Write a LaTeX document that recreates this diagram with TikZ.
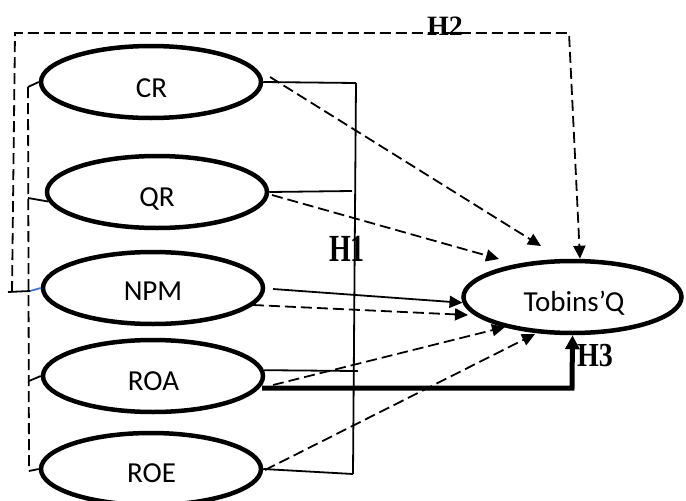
\documentclass[tikz,border=0pt]{standalone}
\usepackage{fontspec}
\setmainfont{Carlito}
\newfontfamily\timesfont{Liberation Serif}
\usetikzlibrary{shapes.geometric,arrows.meta}
\definecolor{linkblue}{RGB}{68,114,196}
\begin{document}
\begin{tikzpicture}[x=1pt,y=-1pt,
  oval/.style={ellipse,draw,line width=4.5pt,minimum width=220pt,minimum height=72pt,inner sep=0pt},
  txt/.style={anchor=base,inner sep=0pt,font=\fontsize{29}{31}\selectfont},
  thinln/.style={line width=1.8pt},
  dsh/.style={line width=1.8pt,dash pattern=on 11pt off 5pt},
  tip/.style={-{Triangle[length=13pt,width=12pt]}},
  bigtip/.style={-{Triangle[length=14pt,width=14pt]}},
  hlab/.style={font=\timesfont\bfseries\fontsize{28}{30}\selectfont,anchor=base,inner sep=0pt}]
\useasboundingbox (0,0) rectangle (686,501);
\clip (0,0) rectangle (686,501);

% ellipses
\node[oval] (cr)  at (151,82)  {};
\node[oval] (qr)  at (157,192) {};
\node[oval] (npm) at (153,288) {};
\node[oval] (roa) at (153,376) {};
\node[oval] (roe) at (151,469) {};
\node[oval,minimum width=218pt] (tq) at (572.5,297) {};

\node[txt] (crt)  at (151.5,97)  {CR};
\node[txt] (qrt)  at (157,206)   {QR};
\node[txt] (npmt) at (153,300)   {NPM};
\node[txt] (roat) at (153.5,390) {ROA};
\node[txt] (roet) at (151.5,482) {ROE};
\node[txt] (tqt)  at (574,311)   {Tobins’Q};

% labels
\node[hlab] (h2) at (445,35) {H2};
\node[hlab] (h1) at (347,261) {\scalebox{1}[1.37]{H1}};
\node[hlab] (h3) at (595,366) {\scalebox{1}[1.2]{H3}};

% H1 bracket (right)
\coordinate (bt) at (356,83);
\coordinate (bb) at (353,474);
\coordinate (bq) at (352,191);
\coordinate (ba) at (358,371);
\draw[thinln] (cr.east) -- (bt);
\draw[thinln] (qr.east) -- (bq);
\draw[thinln] (roa.3) -- (ba);
\draw[thinln] (roe.east) -- (bb);
\draw[thinln] (bt) -- (bb);

% left inner bracket
\coordinate (lt) at (28,87);
\coordinate (lq) at (28,198);
\coordinate (ln) at (30,291);
\coordinate (la) at (29,381);
\coordinate (lb) at (29,471);
\draw[thinln] (lt) -- (cr.west);
\draw[dsh] (lt) -- (lb);
\draw[thinln] (lq) -- (qr.185);
\draw[thinln,linkblue] (ln) -- (npm.west);
\draw[thinln] (la) -- (roa.west);
\draw[thinln] (lb) -- (roe.west);

% H2 outer loop
\coordinate (ob) at (12,292);
\coordinate (ol) at (8,292);
\coordinate (otl) at (15,33);
\coordinate (otr) at (569,33);
\draw[thinln] (ol) -- (ln);
\draw[dsh,tip] (ob) -- (otl) -- (otr) -- ([xshift=7.5pt]tq.north);

% NPM solid arrow
\coordinate (ns) at (273,289);
\draw[thinln,tip] (ns) -- (tq.183);

% dashed arrows
\coordinate (cs) at (270,77);   \coordinate (ce) at (541,246);
\coordinate (qs) at (272,195);  \coordinate (qe) at (499,259);
\coordinate (nds) at (253,305); \coordinate (nde) at (468,315);
\coordinate (as) at (273,385);  \coordinate (ae) at (505,327);
\coordinate (es) at (265,470);  \coordinate (ee) at (535,334);
\draw[dsh,tip] (cs) -- (ce);
\draw[dsh,tip] (qs) -- (qe);
\draw[dsh,tip] (nds) -- (nde);
\draw[dsh,tip] (as) -- (ae);
\draw[dsh,tip] (es) -- (ee);

% H3 thick arrow
\coordinate (ts) at (262,388);
\coordinate (tc) at (572,388);
\draw[line width=5pt,bigtip] (ts) -- (tc) -- (tq.south);
\end{tikzpicture}
\end{document}
